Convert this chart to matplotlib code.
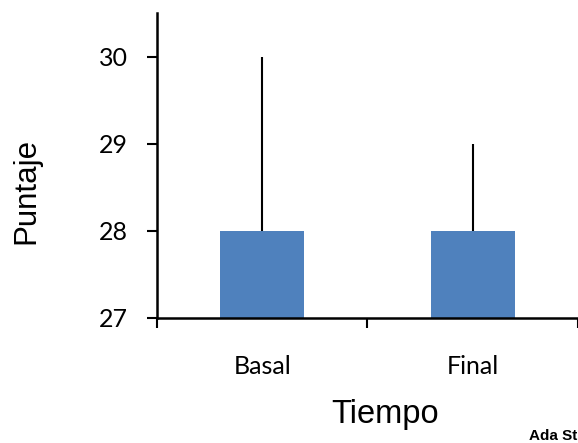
import matplotlib
matplotlib.use("Agg")
import matplotlib.pyplot as plt

# datos
categorias = ["Basal", "Final"]
medias = [28, 28]
err_sup = [2, 1]
y_ticks = [27, 28, 29, 30]

fig = plt.figure(figsize=(5.78, 4.43), dpi=100)
ax = fig.add_axes([0.2716, 0.2822, 0.7284, 0.6885])

x = list(range(len(categorias)))
ax.bar(x, [m - 27 for m in medias], bottom=27, width=0.4, color="#4F81BD", zorder=2)
ax.errorbar(x, medias, yerr=[[0] * len(err_sup), err_sup], fmt="none",
            ecolor="black", elinewidth=1.5, capsize=0, zorder=3)

ax.set_xlim(-0.5, len(categorias) - 0.5)
ax.set_ylim(27, 30.5)

# ticks de x en los limites de categoria, etiquetas centradas
ax.set_xticks([i - 0.5 for i in range(len(categorias) + 1)])
ax.set_xticklabels([])
ax.set_xticks(x, minor=True)
ax.set_xticklabels(categorias, minor=True, fontsize=18, family="Lato")
ax.tick_params(axis="x", which="major", direction="out", length=7, width=1.5)
ax.tick_params(axis="x", which="minor", length=0, pad=27)

ax.set_yticks(y_ticks)
ax.set_yticklabels([str(t) for t in y_ticks], fontsize=18, family="Lato")
ax.tick_params(axis="y", direction="out", length=7, width=1.5, pad=14)

for s in ["top", "right"]:
    ax.spines[s].set_visible(False)
ax.spines["left"].set_linewidth(1.8)
ax.spines["bottom"].set_linewidth(1.8)

fig.text(0.666, 0.065, "Tiempo", ha="center", va="center", fontsize=23.5, family="Liberation Sans")
fig.text(0.045, 0.569, "Puntaje", ha="center", va="center", rotation=90, fontsize=22.5,
         family="Liberation Sans")
fig.text(0.999, 0.0, "Ada St", ha="right", va="bottom", fontsize=11,
         fontweight="bold", family="Liberation Sans")

fig.savefig("out.png", dpi=100)
